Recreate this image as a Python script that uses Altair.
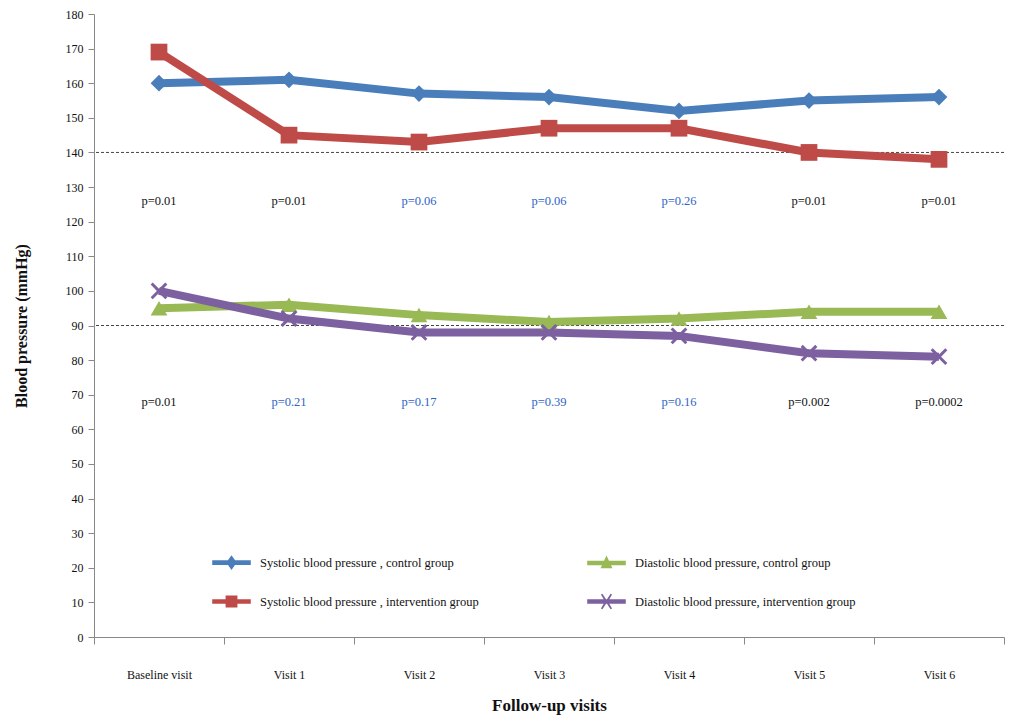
import altair as alt
import pandas as pd

visits = ["Baseline visit", "Visit 1", "Visit 2", "Visit 3", "Visit 4", "Visit 5", "Visit 6"]
series_names = [
    "Systolic blood pressure , control group",
    "Systolic blood pressure , intervention group",
    "Diastolic blood pressure, control group",
    "Diastolic blood pressure, intervention group",
]
sbp_control = [160, 161, 157, 156, 152, 155, 156]
sbp_interv = [169, 145, 143, 147, 147, 140, 138]
dbp_control = [95, 96, 93, 91, 92, 94, 94]
dbp_interv = [100, 92, 88, 88, 87, 82, 81]
series_colors = ["#4a7ebb", "#be4b48", "#98b954", "#7d60a0"]
x_shape = "M-1,-0.75L-0.75,-1L0,-0.25L0.75,-1L1,-0.75L0.25,0L1,0.75L0.75,1L0,0.25L-0.75,1L-1,0.75L-0.25,0Z"
series_shapes = ["diamond", "square", "triangle-up", x_shape]

# legend glyphs: a short line with the marker on it
bar = "M-2.6,-0.32L2.6,-0.32L2.6,0.32L-2.6,0.32Z"
legend_glyphs = [
    bar + "M0,-1L0.7,0L0,1L-0.7,0Z",
    bar + "M-0.8,-0.8L0.8,-0.8L0.8,0.8L-0.8,0.8Z",
    bar + "M0,-1L0.8,0.7L-0.8,0.7Z",
    bar + "M-0.75,-0.95L-0.55,-1.05L0,-0.2L0.55,-1.05L0.75,-0.95L0.2,0L0.75,0.95L0.55,1.05L0,0.2L-0.55,1.05L-0.75,0.95L-0.2,0Z",
]

p_sbp = ["p=0.01", "p=0.01", "p=0.06", "p=0.06", "p=0.26", "p=0.01", "p=0.01"]
p_dbp = ["p=0.01", "p=0.21", "p=0.17", "p=0.39", "p=0.16", "p=0.002", "p=0.0002"]
p_sbp_sig = [True, True, False, False, False, True, True]
p_dbp_sig = [True, False, False, False, False, True, True]
p_rows_y = [126, 68]
threshold_lines = [140, 90]

values_by_series = [sbp_control, sbp_interv, dbp_control, dbp_interv]
rows = []
for name, vals in zip(series_names, values_by_series):
    for v, val in zip(visits, vals):
        rows.append({"visit": v, "series": name, "bp": val})
df = pd.DataFrame(rows)

prow = []
for labels, sig, yv in [(p_sbp, p_sbp_sig, p_rows_y[0]), (p_dbp, p_dbp_sig, p_rows_y[1])]:
    for v, lab, s in zip(visits, labels, sig):
        prow.append({"visit": v, "label": lab, "y": yv, "col": "#111111" if s else "#2e64c8"})
pdf = pd.DataFrame(prow)

rdf = pd.DataFrame({"y": threshold_lines})

FONT = "Liberation Serif"

x_axis = alt.Axis(labelAngle=0, tickBand="extent", labelPadding=25, titlePadding=17,
                  domainColor="#888888", tickColor="#888888", tickSize=7,
                  labelFont=FONT, labelFontSize=12, labelColor="#111111",
                  titleFont=FONT, titleFontSize=17, titleFontWeight="bold", titleColor="#111111")
x_scale = alt.Scale(domain=visits, paddingInner=0, paddingOuter=0)
x_enc = alt.X("visit:N", sort=visits, title="Follow-up visits", scale=x_scale, axis=x_axis)

y_scale = alt.Scale(domain=[0, 180], nice=False)
y_axis = alt.Axis(values=list(range(0, 181, 10)), tickCount=19, labelOverlap=False,
                  domainColor="#888888", tickColor="#888888", tickSize=6, labelPadding=5,
                  labelFont=FONT, labelFontSize=12, labelColor="#111111",
                  title="Blood pressure (mmHg)", titleFont=FONT, titleFontSize=16,
                  titleFontWeight="bold", titleColor="#111111", titlePadding=36, grid=False)


def y_enc(field):
    return alt.Y(field, scale=y_scale, axis=y_axis, title="Blood pressure (mmHg)")


def color_scale():
    return alt.Scale(domain=series_names, range=series_colors)


glyph_scale = alt.Scale(domain=series_names, range=legend_glyphs)
marker_scale = alt.Scale(domain=series_names, range=series_shapes)

legend = alt.Legend(
    title=None, orient="none", legendX=130, legendY=541, columns=2, columnPadding=108,
    rowPadding=23, labelFont=FONT, labelFontSize=12.5, labelColor="#111111", labelLimit=500,
    symbolSize=220, symbolStrokeWidth=0, symbolOpacity=1, labelOffset=21,
)

# invisible layer that only carries the legend (line-with-marker glyphs)
legend_carrier = alt.Chart(df).mark_point(filled=True, size=0).encode(
    x=x_enc,
    y=y_enc("bp:Q"),
    color=alt.Color("series:N", scale=color_scale(), legend=legend, sort=series_names),
    shape=alt.Shape("series:N", scale=glyph_scale, legend=legend, sort=series_names),
)
lines = alt.Chart(df).mark_line(strokeWidth=8).encode(
    x=x_enc,
    y=y_enc("bp:Q"),
    color=alt.Color("series:N", scale=color_scale(), legend=None, sort=series_names),
    detail="series:N",
)
points = alt.Chart(df).mark_point(filled=True, size=280, opacity=1).encode(
    x=x_enc,
    y=y_enc("bp:Q"),
    color=alt.Color("series:N", scale=color_scale(), legend=None, sort=series_names),
    shape=alt.Shape("series:N", scale=marker_scale, legend=None, sort=series_names),
)
rules = alt.Chart(rdf).mark_rule(color="#444444", strokeDash=[3, 2], strokeWidth=1).encode(
    y=y_enc("y:Q")
)
ptext = alt.Chart(pdf).mark_text(font=FONT, fontSize=12.5).encode(
    x=x_enc,
    y=y_enc("y:Q"),
    text="label:N",
    color=alt.Color("col:N", scale=None, legend=None),
)

chart = alt.layer(legend_carrier, rules, lines, points, ptext).resolve_scale(
    shape="independent", color="independent"
).properties(
    width=910, height=623, background="white",
    padding={"top": 0, "left": 5, "right": 0, "bottom": 5}
).configure_view(stroke=None)

chart.save("out.html", embed_options={"renderer": "svg", "actions": False})
